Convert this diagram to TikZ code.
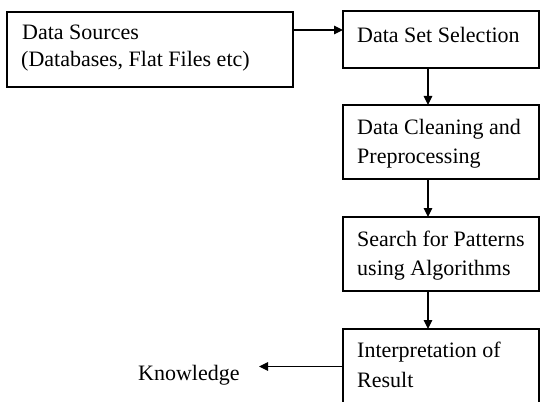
\documentclass[tikz,border=0pt]{standalone}
\usepackage{fontspec}
\setmainfont{Liberation Serif}
\usetikzlibrary{arrows.meta}
\begin{document}
\begin{tikzpicture}[x=1pt,y=-1pt,
  box/.style={draw,line width=1.2pt,anchor=north west,inner sep=0pt,outer sep=0pt},
  txt/.style={anchor=base west,inner sep=0pt,font=\fontsize{22}{26}\selectfont},
  arr/.style={line width=1.2pt,-{Triangle[length=9pt,width=8.5pt]}}]
\useasboundingbox (0,0) rectangle (540,401);
\clip (0,0) rectangle (540,401);
\fill[white] (0,0) rectangle (540,401);
% boxes
\node[box,minimum width=286pt,minimum height=75pt] (b1) at (7,12) {};
\node[box,minimum width=196pt,minimum height=57pt] (b2) at (343,11) {};
\node[box,minimum width=196pt,minimum height=74pt] (b3) at (343,105) {};
\node[box,minimum width=196pt,minimum height=74pt] (b4) at (343,217) {};
\node[box,minimum width=196pt,minimum height=90pt] (b5) at (343,329) {};
% texts
\node[txt] (t1a) at (22,39.5) {Data Sources};
\node[txt] (t1b) at (21,67) {(Databases, Flat Files etc)};
\node[txt] (t2) at (357,43) {Data Set Selection};
\node[txt] (t3a) at (357,134.3) {Data Cleaning and};
\node[txt] (t3b) at (357,163.3) {Preprocessing};
\node[txt] (t4a) at (357,246.3) {Search for Patterns};
\node[txt] (t4b) at (357,275.3) {using Algorithms};
\node[txt] (t5a) at (357,357.3) {Interpretation of};
\node[txt] (t5b) at (357,387.7) {Result};
\node[txt] (know) at (138,380) {Knowledge};
\coordinate (ktip) at (259,366.5);
% connectors
\draw[arr] (b1.east |- 0,30) -- (b2.west |- 0,30);
\draw[arr] (b2.south -| 428,0) -- (b3.north -| 428,0);
\draw[arr] (b3.south -| 428,0) -- (b4.north -| 428,0);
\draw[arr] (b4.south -| 428,0) -- (b5.north -| 428,0);
\draw[arr] (b5.west |- ktip) -- (ktip);
\end{tikzpicture}
\end{document}
